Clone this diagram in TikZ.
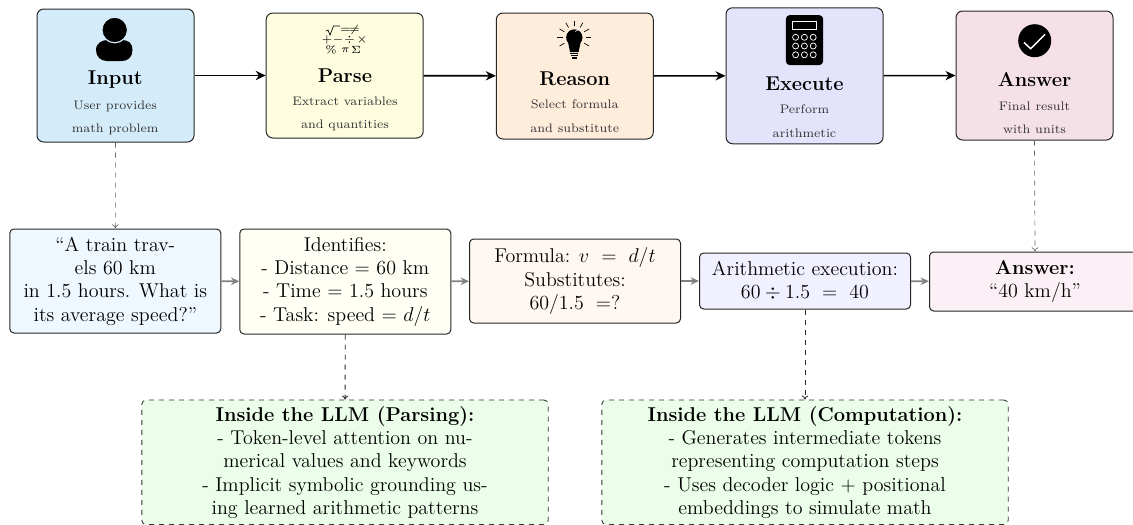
\documentclass[tikz,border=0pt]{standalone}
\usetikzlibrary{arrows.meta}
\definecolor{cInput}{HTML}{D4ECFA}
\definecolor{cParse}{HTML}{FFFDE0}
\definecolor{cReason}{HTML}{FFEDDC}
\definecolor{cExec}{HTML}{E3E3FB}
\definecolor{cAns}{HTML}{F6E0E8}
\definecolor{dInput}{HTML}{F0F8FF}
\definecolor{dParse}{HTML}{FFFFF5}
\definecolor{dReason}{HTML}{FFF8F2}
\definecolor{dExec}{HTML}{F0F0FF}
\definecolor{dAns}{HTML}{FAF0F5}
\definecolor{cGreen}{HTML}{EAFEEA}
\tikzset{
  topbox/.style={draw=black!85,line width=0.6pt,rounded corners=4pt,inner sep=0pt},
  midbox/.style={draw=black!85,line width=0.6pt,rounded corners=2.5pt,inner sep=0pt,align=center,
     minimum width=126.6pt,font=\fontsize{12}{14}\selectfont},
  llmbox/.style={draw=black!80,dashed,line width=0.5pt,rounded corners=2.5pt,inner sep=0pt,align=center,
     fill=cGreen,minimum width=243.8pt,minimum height=74.7pt,font=\fontsize{12}{14}\selectfont},
  title/.style={font=\large\bfseries,inner sep=0pt},
  sub/.style={font=\scriptsize,text=black!80,inner sep=0pt,scale=1.06},
  sym/.style={font=\tiny,inner sep=0pt,scale=1.25},
  flow/.style={-{Stealth[length=6pt,width=5.5pt]},line width=1pt,black},
  gflow/.style={-{Stealth[length=5pt,width=4.5pt]},line width=1pt,black!50},
  gdash/.style={-{To[length=2.5pt,width=4pt]},dashed,line width=0.4pt,black!60},
  ddash/.style={-{To[length=2.5pt,width=4pt]},dashed,line width=0.5pt,black!85},
}
\begin{document}
\begin{tikzpicture}[x=0.6pt,y=-0.6pt]
\clip (0,0) rectangle (1133,524);
% top row
\node[topbox,fill=cInput,minimum width=94.2pt,minimum height=79.8pt] (input) at (115.5,75.5) {};
\node[topbox,fill=cParse,minimum width=94.2pt,minimum height=75pt] (parse) at (344.7,75.5) {};
\node[topbox,fill=cReason,minimum width=94.2pt,minimum height=75.6pt] (reason) at (574.8,76) {};
\node[topbox,fill=cExec,minimum width=94.2pt,minimum height=81.6pt] (exec) at (804.5,75.75) {};
\node[topbox,fill=cAns,minimum width=94.2pt,minimum height=77.4pt] (ans) at (1034.5,75.5) {};
% person icon
\fill[black] (96,50) .. controls (96,43) and (102,40) .. (108,40) -- (122,40) .. controls (128,40) and (132.5,43) .. (132.5,50)
  .. controls (132.5,57) and (128,61) .. (122,61) -- (107,61) .. controls (101,61) and (96,57) .. (96,50) -- cycle;
\fill[black,draw=cInput,line width=0.7pt] (114.7,30) circle (12.8);
% math icon
\draw[black,line width=0.4pt] (326,31) -- (328,30) -- (330,35) -- (333.5,26) -- (340,26);
\node[sym] (m2) at (345.5,30) {$=$};
\node[sym] (m3) at (354.5,30) {$\neq$};
\node[sym] (m4) at (327,40) {$+$};
\node[sym] (m5) at (338,40) {$-$};
\node[sym] (m6) at (349.5,40) {$\div$};
\node[sym] (m7) at (362,40) {$\times$};
\node[sym] (m8) at (331,50) {\%};
\node[sym] (m9) at (345.5,50) {$\pi$};
\node[sym] (m10) at (356,50) {$\Sigma$};
% bulb icon
\fill[black] (574.3,37.5) circle (8.2);
\fill[black] (568,42) -- (570,52) -- (578.6,52) -- (580.6,42) -- cycle;
\fill[black] (570.2,52.5) rectangle (578.4,54);
\fill[black] (570.6,55) rectangle (578,56.2);
\fill[black] (571.8,57) rectangle (576.8,58.5);
\draw[white,line width=0.3pt] (575,31.5) arc (80:15:6.5);
\foreach \a in {-150,-120,-90,-60,-30,0,30,180,150}
  \draw[black,line width=0.4pt] (574.3,37.5) ++(\a:11.5) -- ++(\a:5.5);
% calculator icon
\fill[black,rounded corners=2.5pt] (785.8,15) rectangle (823.2,65.2);
\draw[white!85!cExec,line width=0.5pt] (792.3,21) rectangle (816.5,29.8);
\foreach \px in {795.6,804.4,813.2}\foreach \py in {37.3,46,54.8}
  \draw[white!85!cExec,line width=0.45pt] (\px,\py) circle (3);
% check icon
\fill[black] (1034.7,40.7) circle (16.5);
\draw[white,line width=0.9pt] (1024,42.5) -- (1030.7,48.7) -- (1045,34.3);
% top text
\node[title] (t1) at (115.2,80) {Input};
\node[sub] (s1a) at (115.2,106.7) {User provides};
\node[sub] (s1b) at (115.2,129.3) {math problem};
\node[title] (t2) at (345,76) {Parse};
\node[sub] (s2a) at (345,101) {Extract variables};
\node[sub] (s2b) at (345,125) {and quantities};
\node[title] (t3) at (574.8,79) {Reason};
\node[sub] (s3a) at (574.8,104.5) {Select formula};
\node[sub] (s3b) at (574.8,128.5) {and substitute};
\node[title] (t4) at (804.5,83.5) {Execute};
\node[sub] (s4a) at (804.5,109.5) {Perform};
\node[sub] (s4b) at (804.5,133.5) {arithmetic};
\node[title] (t5) at (1034.5,80) {Answer};
\node[sub] (s5a) at (1034.5,106.7) {Final result};
\node[sub] (s5b) at (1034.5,129.5) {with units};
% middle row
\node[midbox,fill=dInput,minimum height=62.4pt] (q) at (115.3,281) {``A train trav-\\els 60 km\\in 1.5 hours. What is\\its average speed?''};
\node[midbox,fill=dParse,minimum height=63pt] (id) at (345.3,281.5) {Identifies:\\- Distance = 60 km\\- Time = 1.5 hours\\- Task: speed = $d/t$};
\node[midbox,fill=dReason,minimum height=50.4pt] (form) at (575,281) {Formula: $v\ =\ d/t$\\Substitutes:\\$60/1.5\ =?$};
\node[midbox,fill=dExec,minimum height=33.6pt] (arith) at (805,281) {Arithmetic execution:\\$60\div1.5\ =\ 40$};
\node[midbox,fill=dAns,minimum height=35.4pt] (res) at (1035,281.5) {\textbf{Answer:}\\``40 km/h''};
% green boxes
\node[llmbox] (llm1) at (345,462.3) {\textbf{Inside the LLM (Parsing):}\\- Token-level attention on nu-\\merical values and keywords\\- Implicit symbolic grounding us-\\ing learned arithmetic patterns};
\node[llmbox] (llm2) at (805,462.3) {\textbf{Inside the LLM (Computation):}\\- Generates intermediate tokens\\representing computation steps\\- Uses decoder logic + positional\\embeddings to simulate math};
% connectors
\draw[flow] (input) -- (parse);
\draw[flow] (parse) -- (reason);
\draw[flow] (reason) -- (exec);
\draw[flow] (exec) -- (ans);
\draw[gflow] (q) -- (id);
\draw[gflow] (id) -- (form);
\draw[gflow] (form) -- (arith);
\draw[gflow] (arith) -- (res);
\draw[gdash] (input) -- (q);
\draw[gdash] (ans.south) -- (res.north);
\draw[ddash] (id) -- (llm1);
\draw[ddash] (arith) -- (llm2);
\end{tikzpicture}
\end{document}
